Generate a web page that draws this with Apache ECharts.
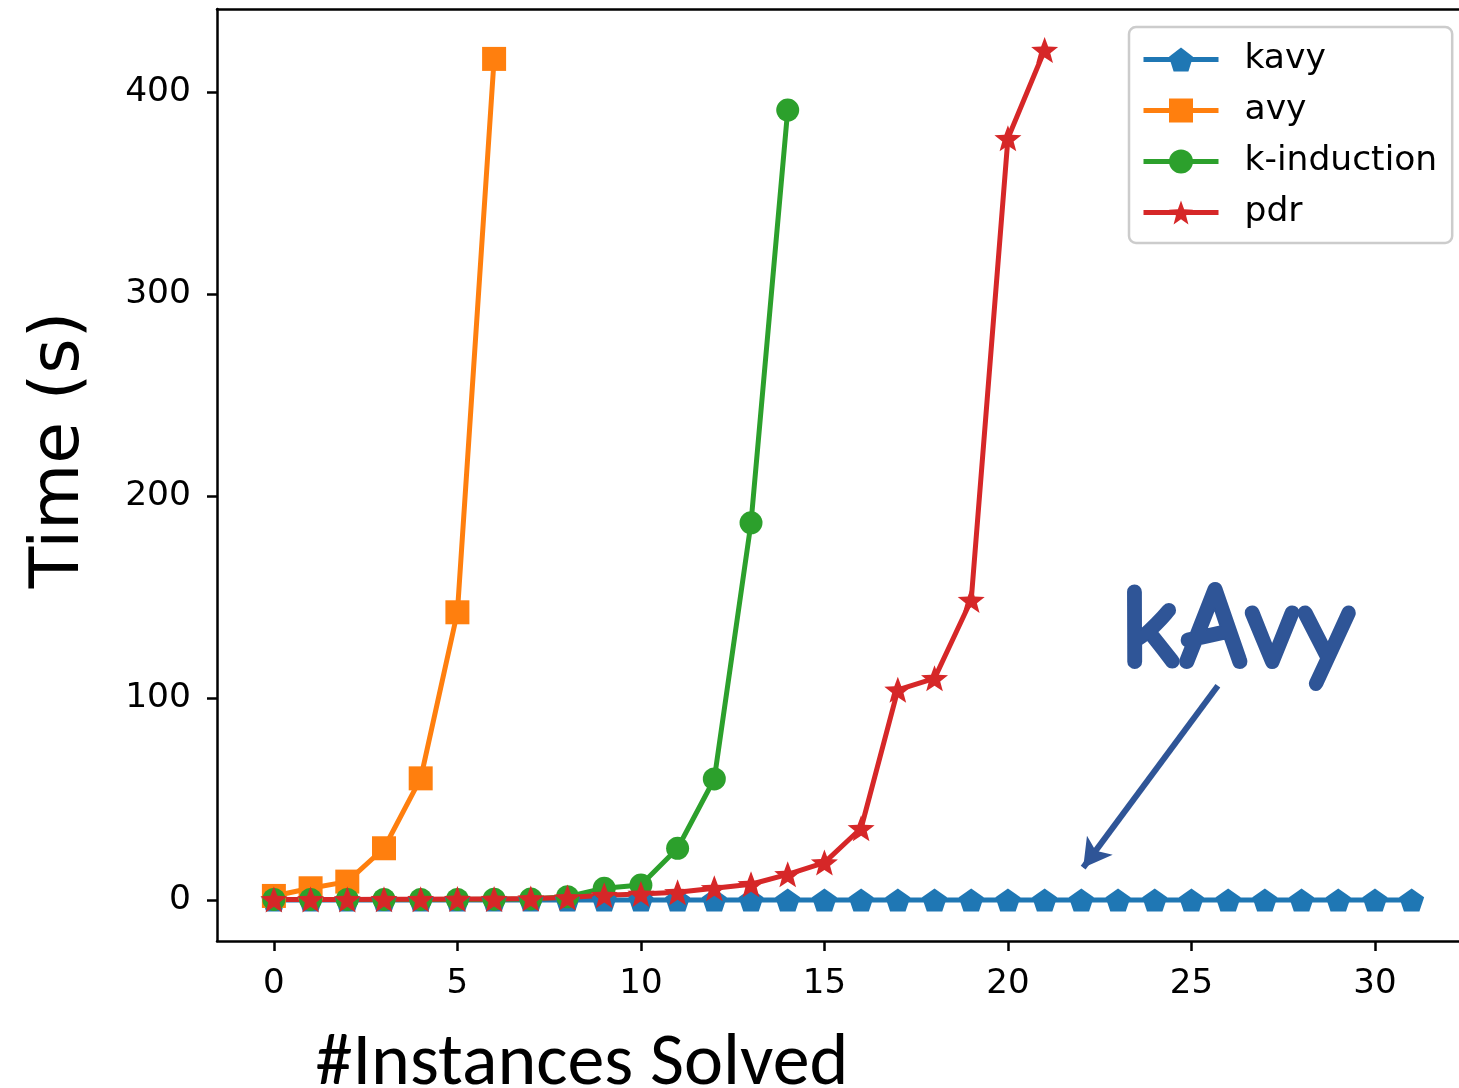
<!DOCTYPE html>
<html>
<head>
<meta charset="utf-8">
<script src="https://cdn.jsdelivr.net/npm/echarts@6/dist/echarts.min.js"></script>
<style>html,body{margin:0;padding:0;background:#fff;}#chart{width:1459px;height:1088px;}</style>
</head>
<body>
<div id="chart"></div>
<script>
// ---- data ----
const seriesNames = ['kavy', 'avy', 'k-induction', 'pdr'];
const kavyTimes = [0,0,0,0,0,0,0,0,0,0,0,0,0,0,0,0,0,0,0,0,0,0,0,0,0,0,0,0,0,0,0,0];
const avyTimes = [2, 5.8, 9.1, 25.6, 60.2, 142.4, 416.3];
const kinductionTimes = [0.3, 0.3, 0.3, 0.3, 0.3, 0.3, 0.4, 0.5, 1.6, 5.8, 7.4, 25.6, 59.9, 186.7, 391];
const pdrTimes = [0.3, 0.3, 0.3, 0.4, 0.4, 0.5, 0.5, 0.7, 1.2, 2.4, 3, 3.8, 5.8, 7.8, 12.7, 18.5, 35.5, 104, 109.7, 148.5, 377, 420.7];
const xTickValues = [0, 5, 10, 15, 20, 25, 30];
const yTickValues = [0, 100, 200, 300, 400];
const xAxisTitle = '#Instances Solved';
const yAxisTitle = 'Time (s)';
const annotationText = 'kAvy';

// ---- marker shapes ----
function polyPath(n, inner) {
  const pts = [];
  const total = inner ? n * 2 : n;
  for (let i = 0; i < total; i++) {
    const r = inner ? (i % 2 === 0 ? 1 : inner) : 1;
    const a = -Math.PI / 2 + i * 2 * Math.PI / total;
    pts.push([(r * Math.cos(a)).toFixed(4), (r * Math.sin(a)).toFixed(4)]);
  }
  return 'path://M' + pts.map(p => p.join(',')).join('L') + 'Z';
}
const pentagon = polyPath(5);
const star = polyPath(5, 0.42);

const colors = ['#1f77b4', '#ff7f0e', '#2ca02c', '#d62728'];
const toPairs = arr => arr.map((v, i) => [i, v]);
const tickFont = 'DejaVu Sans';

const chart = echarts.init(document.getElementById('chart'), null, {renderer: 'canvas'});

function lineSeries(name, data, color, symbol, size, extra) {
  return Object.assign({
    name: name,
    type: 'line',
    data: toPairs(data),
    xAxisIndex: 0,
    yAxisIndex: 0,
    symbol: symbol,
    symbolSize: size,
    symbolKeepAspect: false,
    showSymbol: true,
    showAllSymbol: true,
    lineStyle: {color: color, width: 5},
    itemStyle: {color: color, opacity: 1},
    emphasis: {disabled: true},
    silent: true,
    clip: false,
    animation: false
  }, extra || {});
}

const option = {
  animation: false,
  backgroundColor: '#ffffff',
  grid: {left: 217, top: 9, right: 0, bottom: 147, containLabel: false},
  xAxis: [{
    type: 'value',
    min: -1.55,
    max: 32.29,
    position: 'bottom',
    axisLine: {show: true, onZero: false, lineStyle: {color: '#000', width: 2.5}},
    axisTick: {show: true, length: 10, lineStyle: {color: '#000', width: 2.5}, customValues: xTickValues},
    axisLabel: {show: true, margin: 26, fontFamily: tickFont, fontSize: 34, color: '#000', customValues: xTickValues},
    splitLine: {show: false}
  }, {
    type: 'value',
    min: -1.55,
    max: 32.29,
    position: 'top',
    axisLine: {show: true, onZero: false, lineStyle: {color: '#000', width: 2.5}},
    axisTick: {show: false},
    axisLabel: {show: false},
    splitLine: {show: false}
  }],
  yAxis: [{
    type: 'value',
    min: -20.3,
    max: 441,
    axisLine: {show: true, onZero: false, lineStyle: {color: '#000', width: 2.5}},
    axisTick: {show: true, length: 10, lineStyle: {color: '#000', width: 2.5}, customValues: yTickValues},
    axisLabel: {show: true, margin: 26, fontFamily: tickFont, fontSize: 34.5, color: '#000', padding: [12, 0, 0, 0], customValues: yTickValues},
    splitLine: {show: false}
  }],
  legend: {
    show: true,
    data: seriesNames,
    orient: 'vertical',
    left: 1129,
    top: 27,
    itemWidth: 75,
    itemHeight: 30,
    itemGap: 16,
    padding: [15, 15, 13, 12],
    backgroundColor: 'rgba(255,255,255,0.8)',
    borderColor: '#cccccc',
    borderWidth: 2.5,
    borderRadius: 7,
    selectedMode: false,
    lineStyle: {width: 5},
    textStyle: {fontFamily: tickFont, fontSize: 34.5, color: '#000', lineHeight: 35, padding: [0, 0, 0, 21]}
  },
  series: [
    lineSeries(seriesNames[0], kavyTimes, colors[0], pentagon, [25, 23], {
      markLine: {
        silent: true,
        animation: false,
        symbol: ['none', 'arrow'],
        symbolSize: [24, 28],
        label: {show: false},
        lineStyle: {color: '#2f5597', width: 6, type: 'solid', opacity: 1},
        itemStyle: {color: '#2f5597'},
        emphasis: {disabled: true},
        data: [[{coord: [25.72, 106]}, {coord: [22.05, 16]}]]
      },
      markPoint: {
        silent: true,
        animation: false,
        symbol: 'rect',
        symbolSize: 0,
        itemStyle: {color: 'rgba(0,0,0,0)'},
        label: {
          show: true,
          position: 'inside',
          formatter: annotationText,
          fontFamily: '"Comic Sans MS", "Comic Neue", Lato',
          fontWeight: 'bold',
          fontSize: 122,
          color: '#2f5597',
          textBorderColor: '#2f5597',
          textBorderWidth: 3
        },
        data: [{coord: [26.25, 132.5]}]
      }
    }),
    lineSeries(seriesNames[1], avyTimes, colors[1], 'rect', 24),
    lineSeries(seriesNames[2], kinductionTimes, colors[2], 'circle', 23),
    lineSeries(seriesNames[3], pdrTimes, colors[3], star, [27, 26])
  ],
  graphic: [{
    type: 'text',
    x: 60,
    y: 450,
    rotation: Math.PI / 2,
    silent: true,
    style: {text: yAxisTitle, fontFamily: tickFont, fontSize: 68, fill: '#000', align: 'center', verticalAlign: 'middle'}
  }, {
    type: 'text',
    x: 582,
    y: 1065,
    silent: true,
    style: {text: xAxisTitle, fontFamily: 'Carlito, Calibri, Lato', fontSize: 74, fill: '#000', align: 'center', verticalAlign: 'middle'}
  }]
};
chart.setOption(option);
</script>
</body>
</html>
